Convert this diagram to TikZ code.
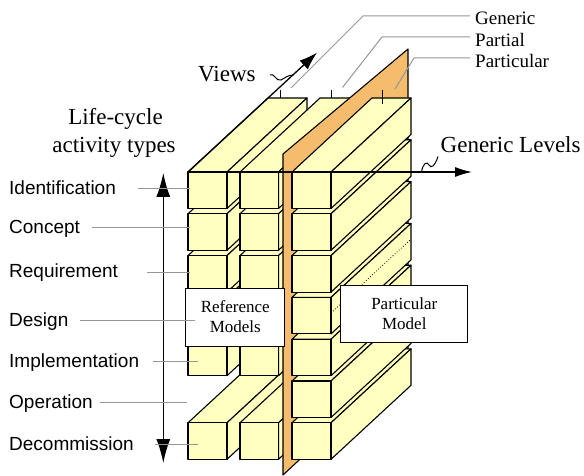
\documentclass[tikz,border=0pt]{standalone}
\usepackage{fontspec}
\setmainfont{Liberation Serif}
\newfontfamily\sansf{Liberation Sans}
\usetikzlibrary{arrows.meta}
\definecolor{byellow}{RGB}{255,255,192}
\definecolor{borange}{RGB}{244,188,108}
\definecolor{lgray}{RGB}{150,150,150}
\tikzset{
  blockst/.style={fill=byellow, draw=black, line width=1.1pt, line join=round},
  leader/.style={draw=lgray, line width=1pt},
  modelbox/.style={draw=black, fill=white, line width=1pt, align=center, inner sep=0pt, font=\fontsize{17}{20}\selectfont},
  sanslab/.style={anchor=base west, inner sep=0pt, font=\sansf\fontsize{19}{22}\selectfont},
  seriflab/.style={inner sep=0pt, font=\fontsize{23}{28}\selectfont},
  smallserif/.style={anchor=base west, inner sep=0pt, font=\fontsize{19}{22}\selectfont},
  axisarrow/.style={draw=black, line width=1.3pt}
}
\newcommand{\blk}[3]{%
  \pgfmathsetmacro{\ya}{#3}\pgfmathsetmacro{\yb}{#3+36.5}%
  \filldraw[blockst] (#1,\ya) -- (#2,\ya) -- ++(80,-74) -- ++({#1-#2},0) -- cycle;
  \filldraw[blockst] (#2,\ya) -- (#2,\yb) -- ++(80,-74) -- ++(0,-36.5) -- cycle;
  \filldraw[blockst] (#1,\ya) rectangle (#2,\yb);
}
\begin{document}
\begin{tikzpicture}[x=1pt,y=-1pt]
\useasboundingbox (0,0) rectangle (584,476);
% column 1 and 2 (no Operation row)
\foreach \r in {7,5,4,3,2,1}{
  \pgfmathsetmacro{\tt}{172+41.8*(\r-1)}
  \blk{188}{227}{\tt}
}
\foreach \r in {7,5,4,3,2,1}{
  \pgfmathsetmacro{\tt}{172+41.8*(\r-1)}
  \blk{240}{278.5}{\tt}
}
% particular plane
\filldraw[fill=borange, draw=black, line width=1.1pt, line join=round]
  (283,475) -- (283,154) -- (408,49) -- (408,359) -- cycle;
% column 3
\foreach \r in {7,6,...,1}{
  \pgfmathsetmacro{\tt}{172+41.8*(\r-1)}
  \blk{292}{331}{\tt}
}
% dotted line on design row
\draw[dotted, line width=0.8pt] (331,313) -- (410,240);
% axes
\coordinate (O) at (188,172);
\coordinate (vtip) at (317,52.7);
\coordinate (gtip) at (472,172);
\draw[axisarrow, -{Latex[length=18pt,width=12pt]}] (O) -- (vtip);
\draw[axisarrow, -{Latex[length=17pt,width=10pt]}] (O) -- (gtip);
% view ticks
\draw[line width=1pt] (280,90) -- (280,98.5);
\draw[line width=1pt] (331.5,90) -- (331.5,98.5);
\draw[line width=1pt] (382.5,90) -- (382.5,104);
% squiggles
\draw[line width=1pt] (270,75) .. controls (274,72) and (276,82) .. (281,80) .. controls (285,78) and (288,75) .. (293,75.1);
\draw[line width=1pt] (421.5,172) .. controls (423,163) and (427,161) .. (429,165) .. controls (431,169) and (435,166) .. (438,156.5);
% labels on axes
\node[seriflab, anchor=base west] (views) at (198,81.7) {Views};
\node[seriflab, anchor=base west] (glev) at (440.5,152.5) {Generic Levels};
\node[smallserif] (lgen) at (475,25) {Generic};
\node[smallserif] (lpar) at (475,46.5) {Partial};
\node[smallserif] (lpart) at (475,67.5) {Particular};
\coordinate (g1) at (470,16); \coordinate (g2) at (363,16); \coordinate (g3) at (291,88);
\coordinate (p1) at (470,37); \coordinate (p2) at (382,37); \coordinate (p3) at (342.5,87.5);
\coordinate (q1) at (470,58); \coordinate (q2) at (414,58); \coordinate (q3) at (395,89);
\draw[leader] (g1) -- (g2) -- (g3);
\draw[leader] (p1) -- (p2) -- (p3);
\draw[leader] (q1) -- (q2) -- (q3);
% model boxes
\node[modelbox, minimum width=99.3pt, minimum height=58pt] (ref) at (235.3,317) {Reference\\Models};
\node[modelbox, minimum width=126.7pt, minimum height=57pt] (part) at (404.3,313.5) {Particular\\Model};
% left title
\node[seriflab, anchor=base] (lc1) at (115.5,124.5) {Life-cycle};
\node[seriflab, anchor=base] (lc2) at (114,153) {activity types};
% vertical arrow
\coordinate (at) at (163.3,173);
\coordinate (ab) at (163.3,463);
\draw[axisarrow, {Latex[length=24pt,width=14pt]}-{Latex[length=24pt,width=14pt]}] (at) -- (ab);
% life-cycle labels
\node[sanslab] (l1) at (9,194.3) {Identification};
\node[sanslab] (l2) at (9,233.5) {Concept};
\node[sanslab] (l3) at (9,277) {Requirement};
\node[sanslab] (l4) at (9,326) {Design};
\node[sanslab] (l5) at (9,367) {Implementation};
\node[sanslab] (l6) at (9,408.5) {Operation};
\node[sanslab] (l7) at (9,450) {Decommission};
\draw[leader] (138,189) -- (190,189);
\draw[leader] (92,227.7) -- (190,227.7);
\draw[leader] (147,272.7) -- (190,272.7);
\draw[leader] (80,320.7) -- (195,320.7);
\draw[leader] (153,361) -- (198,361);
\draw[leader] (100,402.7) -- (187,402.7);
\draw[leader] (155,444) -- (198,444);
\end{tikzpicture}
\end{document}
